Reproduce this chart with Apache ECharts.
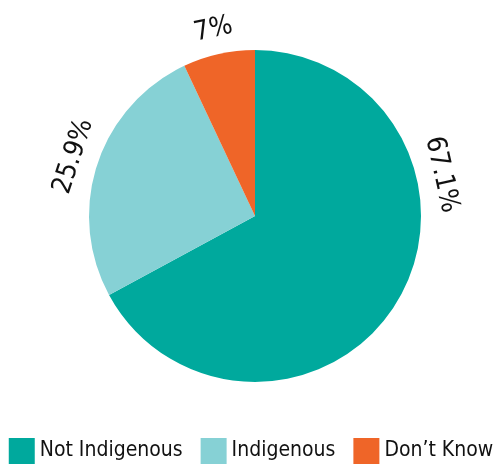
<!DOCTYPE html>
<html>
<head>
<meta charset="utf-8">
<style>html,body{margin:0;padding:0;background:#fff}#c{width:502px;height:469px}</style>
<script src="https://cdn.jsdelivr.net/npm/echarts@6/dist/echarts.min.js"></script>
</head>
<body>
<div id="c"></div>
<script>
const categories = ['Not Indigenous', 'Indigenous', "Don\u2019t Know"];
const values = [67.1, 25.9, 7];
const labels = ['67.1%', '25.9%', '7%'];
const colors = ['#00A99D', '#86D1D5', '#EF6528'];

const FONT = "'DejaVu Sans Condensed', 'Roboto', sans-serif";
const CX = 255, CY = 216, R = 166, LABEL_R = 191;
const labelAngleOverride = {0: 12.5};

const total = values.reduce((a, b) => a + b, 0);
const midAngles = [];
let acc = 90;
values.forEach(v => { const span = v / total * 360; midAngles.push(acc - span / 2); acc -= span; });

const chart = echarts.init(document.getElementById('c'), null, {renderer: 'canvas'});
chart.setOption({
  animation: false,
  legend: {
    bottom: 0, left: 'center',
    itemWidth: 26, itemHeight: 26, itemGap: 18,
    icon: 'rect',
    textStyle: {fontFamily: FONT, fontSize: 21, color: '#111'},
    data: categories
  },
  series: [{
    type: 'pie',
    center: [CX, CY],
    radius: R,
    startAngle: 90,
    clockwise: true,
    data: categories.map((c, i) => ({name: c, value: values[i], itemStyle: {color: colors[i]}})),
    label: {
      show: true, position: 'outside',
      formatter: p => labels[p.dataIndex],
      fontFamily: FONT, fontSize: 27, color: '#111',
      overflow: 'none'
    },
    labelLine: {show: false},
    labelLayout: function (p) {
      const a = labelAngleOverride[p.dataIndex] != null ? labelAngleOverride[p.dataIndex] : midAngles[p.dataIndex];
      const rad = a * Math.PI / 180;
      return {
        x: CX + LABEL_R * Math.cos(rad),
        y: CY - LABEL_R * Math.sin(rad),
        align: 'center', verticalAlign: 'middle',
        rotate: a - 90,
        width: 200
      };
    },
    emphasis: {disabled: true}
  }]
});
</script>
</body>
</html>
